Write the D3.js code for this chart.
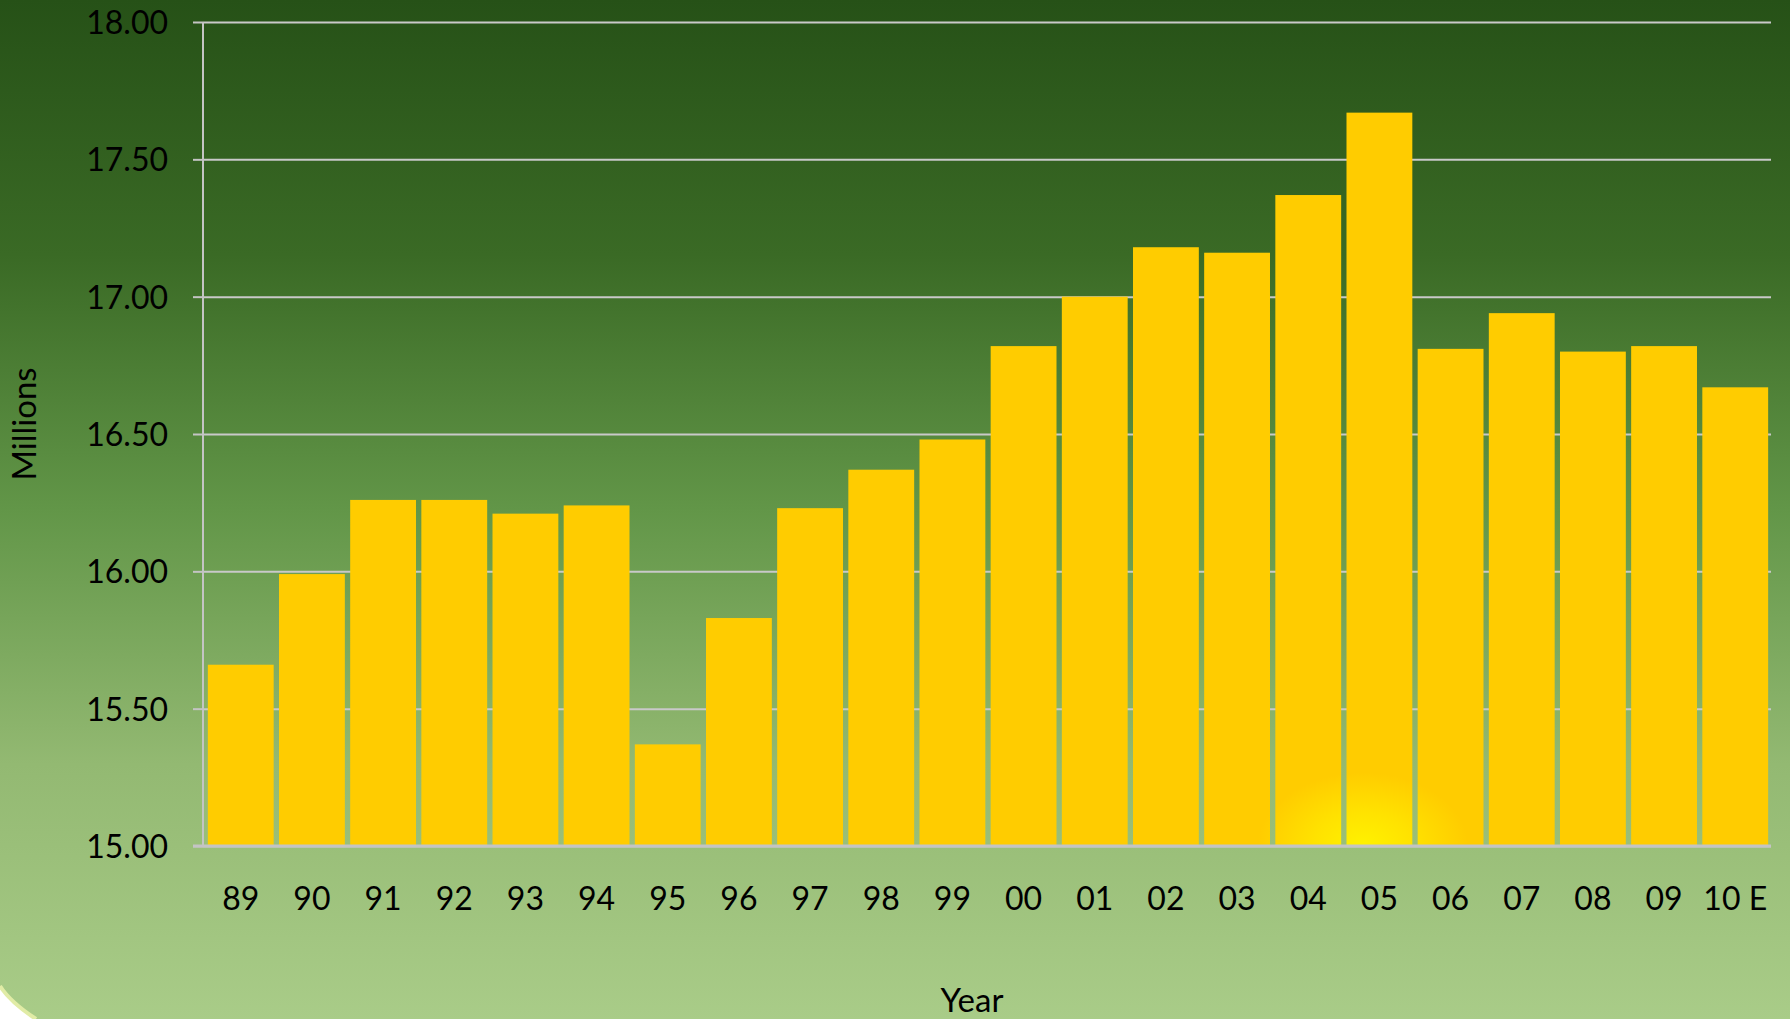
<!DOCTYPE html>
<html>
<head>
<meta charset="utf-8">
<script src="https://d3js.org/d3.v7.min.js"></script>
<style>
  body { margin:0; background:#fff; overflow:hidden; }
  text { font-family: Lato, "Open Sans", sans-serif; fill:#000; }
  .tick text { font-size: 32px; }
  .axis-title { font-size: 33px; }
</style>
</head>
<body>
<script>
  // data
  var years = ["89","90","91","92","93","94","95","96","97","98","99",
               "00","01","02","03","04","05","06","07","08","09","10 E"];
  var millions = [15.66, 15.99, 16.26, 16.26, 16.21, 16.24, 15.37, 15.83, 16.23, 16.37, 16.48,
                  16.82, 17.00, 17.18, 17.16, 17.37, 17.67, 16.81, 16.94, 16.80, 16.82, 16.67];
  var yTicks = [15, 15.5, 16, 16.5, 17, 17.5, 18];

  var W = 1790, H = 1019;
  var plotL = 203, plotR = 1771, plotT = 22, plotB = 846;

  var svg = d3.select("body").append("svg")
      .attr("width", W)
      .attr("height", H);

  var defs = svg.append("defs");
  var bg = defs.append("linearGradient").attr("id","bg")
      .attr("x1",0).attr("y1",0).attr("x2",0).attr("y2",1);
  bg.append("stop").attr("offset","0%").attr("stop-color","#265117");
  bg.append("stop").attr("offset","25%").attr("stop-color","#3a6a25");
  bg.append("stop").attr("offset","50%").attr("stop-color","#629648");
  bg.append("stop").attr("offset","75%").attr("stop-color","#93b972");
  bg.append("stop").attr("offset","100%").attr("stop-color","#a9cc88");

  // the slide background, with its rounded bottom-left corner
  svg.append("rect").attr("width", W).attr("height", H).attr("fill","url(#bg)");
  svg.append("path")
      .attr("d","M0,986 Q10,1002 36,1019 L0,1019 Z")
      .attr("fill","#fff");
  svg.append("path")
      .attr("d","M0,986 Q10,1002 36,1019")
      .attr("fill","none").attr("stroke","#e1eca6").attr("stroke-width",4);

  var x = d3.scaleBand()
      .domain(years)
      .range([plotL + 2, plotR])
      .paddingInner(0.075)
      .paddingOuter(0.04);

  var y = d3.scaleLinear()
      .domain([15, 18])
      .range([plotB, plotT]);

  // glow at the foot of the 05 bar
  var gx = x("05") + x.bandwidth() * 0.25, gy = y(15);
  var glow = defs.append("radialGradient").attr("id","glow")
      .attr("gradientUnits","userSpaceOnUse")
      .attr("cx", gx).attr("cy", gy)
      .attr("r", 140)
      .attr("gradientTransform", "translate(" + gx + "," + gy + ") scale(1,0.7) translate(" + (-gx) + "," + (-gy) + ")");
  glow.append("stop").attr("offset","0%").attr("stop-color","#fff200");
  glow.append("stop").attr("offset","35%").attr("stop-color","#ffe200");
  glow.append("stop").attr("offset","75%").attr("stop-color","#ffcc00");
  glow.append("stop").attr("offset","100%").attr("stop-color","#ffcc00");

  // gridlines
  svg.append("g")
      .attr("transform","translate(" + plotL + ",0)")
      .call(d3.axisLeft(y).tickValues(yTicks).tickSize(-(plotR - plotL)).tickFormat(""))
      .call(function(g){
        g.select(".domain").remove();
        g.selectAll("line").attr("stroke","#c9c9c9").attr("stroke-width",2);
      });

  svg.append("g").selectAll("rect")
      .data(millions)
      .enter().append("rect")
      .attr("x", function(d, i){ return x(years[i]); })
      .attr("y", function(d){ return y(d); })
      .attr("width", x.bandwidth())
      .attr("height", function(d){ return y(15) - y(d); })
      .attr("fill","url(#glow)");

  // y axis
  svg.append("g")
      .attr("transform","translate(" + plotL + ",0)")
      .call(d3.axisLeft(y).tickValues(yTicks).tickSize(10).tickPadding(25).tickFormat(d3.format(".2f")))
      .call(function(g){
        g.selectAll("line").attr("stroke","#c4c4c4").attr("stroke-width",2);
        g.select(".domain").attr("stroke","#c4c4c4").attr("stroke-width",2).attr("d","M0," + plotT + "V" + plotB);
        g.selectAll("text").attr("dy","0.36em");
      });

  // x axis
  svg.append("g")
      .attr("transform","translate(0," + plotB + ")")
      .call(d3.axisBottom(x).tickSize(0).tickPadding(52))
      .call(function(g){
        g.select(".domain").attr("stroke","#c4c4c4").attr("stroke-width",3).attr("d","M" + (plotL - 10) + ",0H" + plotR);
        g.selectAll("text").attr("dy","0.36em");
      });

  svg.append("text")
      .attr("class","axis-title")
      .attr("x", 972).attr("y", 1012)
      .attr("text-anchor","middle")
      .text("Year");

  svg.append("text")
      .attr("class","axis-title")
      .attr("transform","translate(36,424) rotate(-90)")
      .attr("text-anchor","middle")
      .text("Millions");
</script>
</body>
</html>
